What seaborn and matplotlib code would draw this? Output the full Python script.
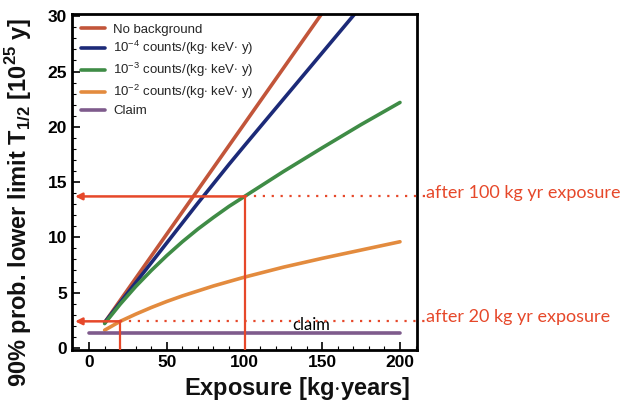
import matplotlib
matplotlib.use("Agg")
import matplotlib.pyplot as plt
import pandas as pd
import seaborn as sns

# exposure points (kg yr) and limits (10^25 y)
exposure = [10, 20, 30, 40, 50, 60, 70, 80, 90, 100, 125, 150, 175, 200]
no_bkg = [2.3, 4.3, 6.3, 8.3, 10.3, 12.3, 14.3, 16.3, 18.3, 20.3, 25.3, 30.3, 35.3, 40.3]
bkg_1e4 = [2.3, 4.1, 5.9, 7.7, 9.5, 11.3, 13.1, 14.85, 16.6, 18.3, 22.5, 26.7, 30.9, 35.0]
bkg_1e3 = [2.2, 3.95, 5.55, 7.0, 8.35, 9.6, 10.75, 11.8, 12.8, 13.7, 15.95, 18.1, 20.2, 22.2]
bkg_1e2 = [1.6, 2.4, 3.05, 3.65, 4.2, 4.7, 5.15, 5.6, 6.0, 6.4, 7.3, 8.1, 8.85, 9.6]
claim_x = [0, 200]
claim_y = [1.3, 1.3]

labels = ['No background',
          r'10$^{-4}$ counts/(kg$\cdot$ keV$\cdot$ y)',
          r'10$^{-3}$ counts/(kg$\cdot$ keV$\cdot$ y)',
          r'10$^{-2}$ counts/(kg$\cdot$ keV$\cdot$ y)',
          'Claim']
colors = ['#c2553a', '#1c2a78', '#3f8c46', '#e38b3e', '#7e5b8c']

# the two read-off points marked with arrows
marks_x = [100, 20]
marks_y = [13.7, 2.4]
mark_text = ['after 100 kg yr exposure', 'after 20 kg yr exposure']

frames = []
for lab, ys in zip(labels[:4], [no_bkg, bkg_1e4, bkg_1e3, bkg_1e2]):
    frames.append(pd.DataFrame({'x': exposure, 'y': ys, 'series': lab}))
frames.append(pd.DataFrame({'x': claim_x, 'y': claim_y, 'series': labels[4]}))
df = pd.concat(frames, ignore_index=True)

sns.set_theme(style="ticks")
plt.rcParams['font.family'] = ['Liberation Sans', 'DejaVu Sans']
plt.rcParams['mathtext.fontset'] = 'custom'
plt.rcParams['mathtext.rm'] = 'Liberation Sans'
plt.rcParams['mathtext.bf'] = 'Liberation Sans:bold'

fig = plt.figure(figsize=(6.24, 4.01), dpi=100)
ax = fig.add_axes([0.1154, 0.127, 0.553, 0.838])

sns.lineplot(data=df, x='x', y='y', hue='series', hue_order=labels,
             palette=dict(zip(labels, colors)), linewidth=2.6, ax=ax,
             sort=False, estimator=None)

ax.set_xlim(-11, 211)
ax.set_ylim(-0.2, 30.2)
ax.set_xticks([0, 50, 100, 150, 200])
ax.set_yticks([0, 5, 10, 15, 20, 25, 30])
ax.set_xticks(range(0, 211, 10), minor=True)
ax.set_yticks(range(0, 31, 1), minor=True)
ax.tick_params(which='both', direction='in', top=False, right=False,
               colors='black')
ax.tick_params(which='major', length=6, width=1.2, labelsize=12.5)
ax.tick_params(which='minor', length=3, width=0.8)
for t in ax.get_xticklabels() + ax.get_yticklabels():
    t.set_fontweight('bold')
for s in ax.spines.values():
    s.set_linewidth(2)
    s.set_color('black')
    s.set_visible(True)

ax.set_xlabel('Exposure [kg$\\cdot$years]', fontsize=17, fontweight='bold',
              color='#111111')
ax.set_ylabel(r'90% prob. lower limit T$_{\mathbf{1/2}}$ [10$^{\mathbf{25}}$ y]',
              fontsize=17, fontweight='bold', color='#111111')
ax.yaxis.set_label_coords(-0.11, 0.44)
ax.xaxis.set_label_coords(0.652, -0.075)

leg = ax.legend(loc='upper left', frameon=False, fontsize=9.5, handlelength=1.8,
                labelspacing=0.28, borderaxespad=0.2, handletextpad=0.6,
                borderpad=0.5)
for h in leg.get_lines():
    h.set_linewidth(2.6)

red = '#e6482a'
for mx, my, txt in zip(marks_x, marks_y, mark_text):
    ax.plot([mx, mx], [-0.2, my], color=red, lw=1.6, zorder=5)
    ax.annotate('', xy=(-9, my), xytext=(mx, my),
                arrowprops=dict(arrowstyle='-|>', color=red, lw=1.8,
                                mutation_scale=10, shrinkA=0, shrinkB=0),
                zorder=6)
    ax.plot([mx, 216], [my, my], color=red, lw=1.6, ls=(0, (1, 3)),
            clip_on=False, zorder=5)
    ax.text(217, my + 0.35, txt, color=red, fontsize=13, family='Lato',
            va='center', ha='left', clip_on=False)

ax.text(143, 2.1, 'claim', color='black', fontsize=12, family='Lato',
        va='center', ha='center')

fig.savefig('out.png', dpi=100)
